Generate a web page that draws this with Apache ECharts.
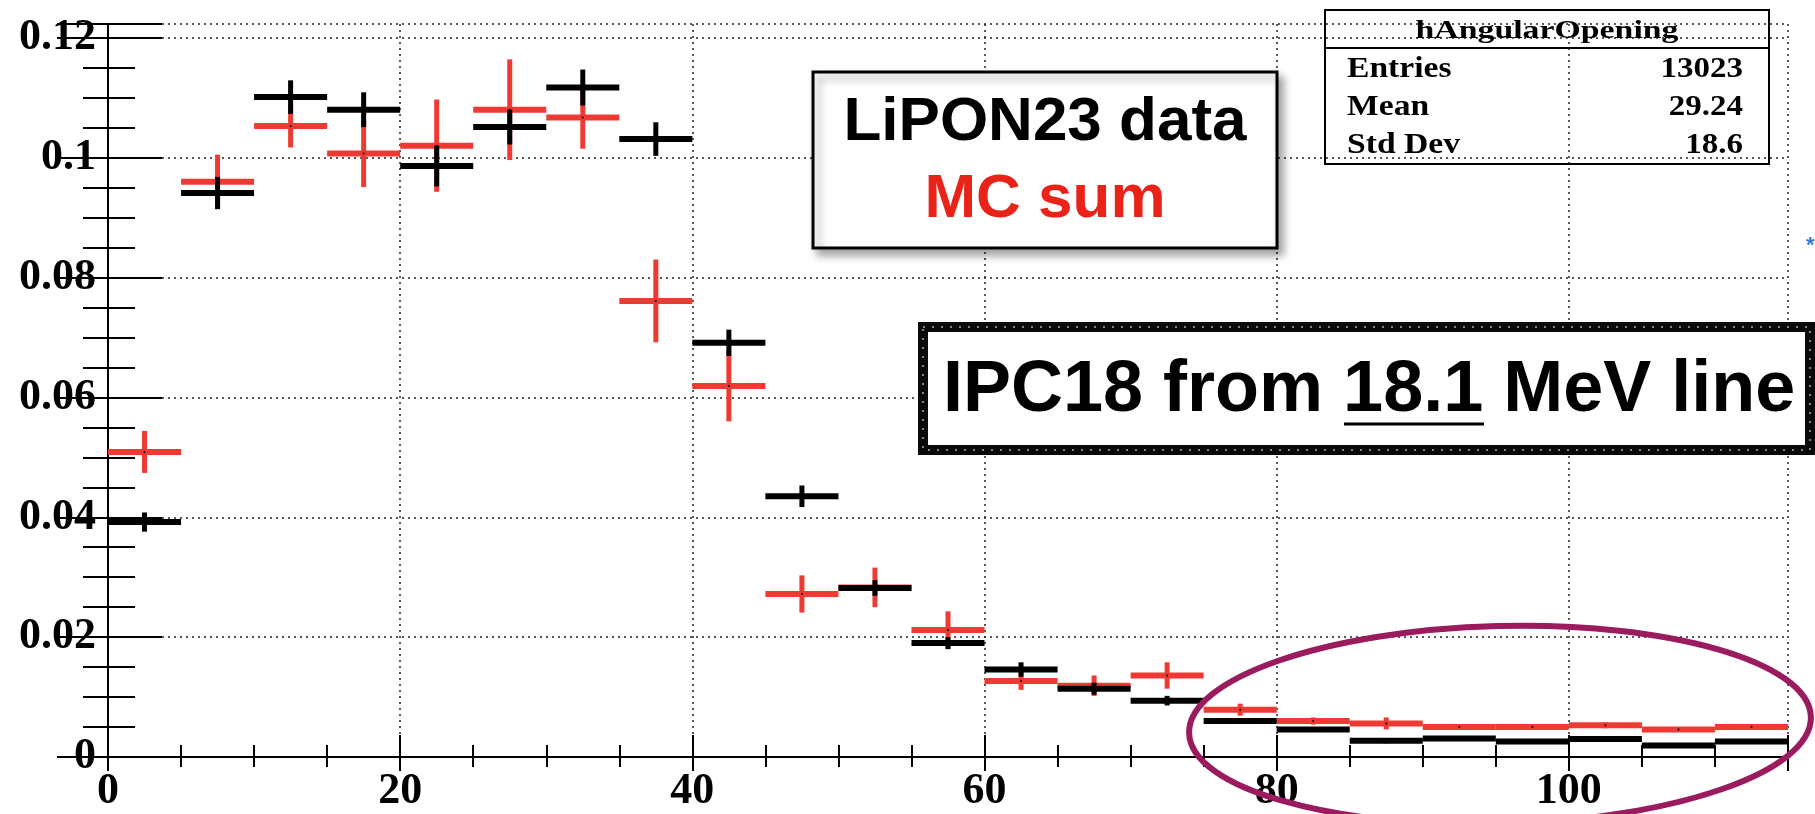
<!DOCTYPE html>
<html>
<head>
<meta charset="utf-8">
<script src="https://cdn.jsdelivr.net/npm/echarts@6/dist/echarts.min.js"></script>
<style>
html,body{margin:0;padding:0;background:#fff;}
#chart{width:1815px;height:814px;}
</style>
</head>
<body>
<div id="chart"></div>
<script>
// ---- data (angular opening histogram, bins of 5 deg) ----
const binEdges = [0,5,10,15,20,25,30,35,40,45,50,55,60,65,70,75,80,85,90,95,100,105,110,115];
const dataValues = [0.0392,0.0941,0.1101,0.1080,0.0986,0.1051,0.1117,0.1031,0.0691,0.0435,0.0282,0.0190,0.0146,0.0114,0.0094,0.0060,0.0046,0.0027,0.0031,0.0026,0.0030,0.0019,0.0026];
const dataErrors = [0.0016,0.0027,0.0028,0.0029,0.0034,0.0029,0.0030,0.0028,0.0022,0.0018,0.0013,0.0010,0.0012,0.0010,0.0008,0.0005,0.0004,0.0004,0.0004,0.0004,0.0004,0.0004,0.0004];
const mcValues = [0.0509,0.0960,0.1053,0.1007,0.1020,0.1080,0.1067,0.0761,0.0619,0.0272,0.0283,0.0212,0.0127,0.0119,0.0136,0.0079,0.0060,0.0056,0.0050,0.0050,0.0053,0.0046,0.0050];
const mcErrors = [0.0035,0.0045,0.0036,0.0056,0.0077,0.0084,0.0052,0.0069,0.0059,0.0031,0.0033,0.0031,0.0015,0.0017,0.0022,0.0010,0.0006,0.0010,0.0004,0.0003,0.0005,0.0003,0.0003];
const xTickLabels = ['0','20','40','60','80','100'];
const yTickLabels = ['0','0.02','0.04','0.06','0.08','0.1','0.12'];
const statsTitle = 'hAngularOpening';
const statsNames = ['Entries','Mean','Std Dev'];
const statsValues = ['13023','29.24','18.6'];

function toItems(vals, errs){
  return vals.map((v,i)=>[binEdges[i], binEdges[i+1], v, errs[i]]);
}
function crossRenderer(color){
  return function(params, api){
    const x0 = api.value(0), x1 = api.value(1), v = api.value(2), e = api.value(3);
    const pL = api.coord([x0, v]), pR = api.coord([x1, v]);
    const xc = (x0 + x1) / 2;
    const pT = api.coord([xc, v + e]), pB = api.coord([xc, v - e]);
    return {type:'group', children:[
      {type:'line', shape:{x1:pL[0], y1:pL[1], x2:pR[0], y2:pR[1]}, style:{stroke:color, lineWidth:6}},
      {type:'line', shape:{x1:pT[0], y1:pT[1], x2:pB[0], y2:pB[1]}, style:{stroke:color, lineWidth:5}},
      {type:'circle', shape:{cx:(pL[0]+pR[0])/2, cy:pL[1], r:1}, style:{fill:'#000'}}
    ]};
  };
}

const serifFont = "'Liberation Serif','DejaVu Serif',serif";
const sansFont = "'Liberation Sans',Arial,sans-serif";
const black = '#000';

function xFmt(v){ const i = Math.round(v/20); return (Math.abs(v - i*20) < 1e-6 && xTickLabels[i] !== undefined) ? xTickLabels[i] : ''; }
function yFmt(v){ const i = Math.round(v/0.02); return (Math.abs(v - i*0.02) < 1e-9 && yTickLabels[i] !== undefined) ? yTickLabels[i] : ''; }

const gridLine = {show:true, lineStyle:{color:'#222', width:1.5, type:[2,4]}};
const axisLineStyle = {show:true, lineStyle:{color:black, width:2}};

const chart = echarts.init(document.getElementById('chart'), null, {renderer:'canvas'});
const option = {
  animation:false,
  backgroundColor:'#fff',
  grid:{left:108, right:27, top:24, bottom:50, containLabel:false},
  xAxis:[
    {type:'value', position:'bottom', min:0, max:115, interval:20,
     axisLine:axisLineStyle,
     axisTick:{show:true, inside:true, length:22, lineStyle:{color:black, width:2}},
     axisLabel:{show:true, formatter:xFmt, margin:13, color:black, fontSize:44, fontWeight:'bold', fontFamily:serifFont},
     splitLine:gridLine},
    {type:'value', position:'bottom', min:0, max:115, interval:5,
     axisLine:{show:false}, axisTick:{show:true, inside:true, length:12, lineStyle:{color:black, width:2}},
     axisLabel:{show:false}, splitLine:{show:false}},
    {type:'value', position:'top', min:0, max:115, interval:20,
     axisLine:axisLineStyle, axisTick:{show:true, inside:true, length:14, lineStyle:{color:black, width:2}},
     axisLabel:{show:false}, splitLine:{show:false}},
    {type:'value', position:'top', min:0, max:115, interval:5,
     axisLine:{show:false}, axisTick:{show:true, inside:true, length:10, lineStyle:{color:black, width:2}},
     axisLabel:{show:false}, splitLine:{show:false}}
  ],
  yAxis:[
    {type:'value', position:'left', min:0, max:0.1223, interval:0.02,
     axisLine:axisLineStyle,
     axisTick:{show:true, inside:true, length:54, lineStyle:{color:black, width:2}},
     axisLabel:{show:true, formatter:yFmt, margin:12, color:black, fontSize:44, fontWeight:'bold', fontFamily:serifFont},
     splitLine:gridLine},
    {type:'value', position:'left', min:0, max:0.1223, interval:0.005,
     axisLine:{show:false}, axisTick:{show:true, inside:true, length:27, lineStyle:{color:black, width:2}},
     axisLabel:{show:false}, splitLine:{show:false}},
    {type:'value', position:'right', min:0, max:0.1223, interval:0.02,
     axisLine:axisLineStyle, axisTick:{show:true, inside:true, length:51, lineStyle:{color:black, width:2}},
     axisLabel:{show:false}, splitLine:{show:false}},
    {type:'value', position:'right', min:0, max:0.1223, interval:0.005,
     axisLine:{show:false}, axisTick:{show:true, inside:true, length:25, lineStyle:{color:black, width:2}},
     axisLabel:{show:false}, splitLine:{show:false}}
  ],
  series:[
    {name:'MC sum', type:'custom', xAxisIndex:0, yAxisIndex:0, z:3,
     renderItem:crossRenderer('#ef3a33'), encode:{x:[0,1], y:[2]}, data:toItems(mcValues, mcErrors)},
    {name:'LiPON23 data', type:'custom', xAxisIndex:0, yAxisIndex:0, z:4,
     renderItem:crossRenderer('#000'), encode:{x:[0,1], y:[2]}, data:toItems(dataValues, dataErrors)}
  ],
  graphic:[
    // stats box (transparent)
    {type:'rect', z:50, shape:{x:1325, y:10, width:444, height:154}, style:{fill:'none', stroke:black, lineWidth:2}},
    {type:'line', z:50, shape:{x1:1325, y1:48, x2:1769, y2:48}, style:{stroke:black, lineWidth:2}},
    {type:'text', z:51, x:1547, y:31, scaleX:1.3, style:{text:statsTitle, x:0, y:0, align:'center', verticalAlign:'middle', font:"bold 26px "+serifFont, fill:black}},
    {type:'text', z:51, x:1347, y:69, scaleX:1.12, style:{text:statsNames[0], x:0, y:0, align:'left', verticalAlign:'middle', font:"bold 30px "+serifFont, fill:black}},
    {type:'text', z:51, x:1347, y:107, scaleX:1.12, style:{text:statsNames[1], x:0, y:0, align:'left', verticalAlign:'middle', font:"bold 30px "+serifFont, fill:black}},
    {type:'text', z:51, x:1347, y:145, scaleX:1.12, style:{text:statsNames[2], x:0, y:0, align:'left', verticalAlign:'middle', font:"bold 30px "+serifFont, fill:black}},
    {type:'text', z:51, x:1743, y:69, scaleX:1.1, style:{text:statsValues[0], x:0, y:0, align:'right', verticalAlign:'middle', font:"bold 30px "+serifFont, fill:black}},
    {type:'text', z:51, x:1743, y:107, scaleX:1.1, style:{text:statsValues[1], x:0, y:0, align:'right', verticalAlign:'middle', font:"bold 30px "+serifFont, fill:black}},
    {type:'text', z:51, x:1743, y:145, scaleX:1.1, style:{text:statsValues[2], x:0, y:0, align:'right', verticalAlign:'middle', font:"bold 30px "+serifFont, fill:black}},
    // legend-like box
    {type:'rect', z:60, shape:{x:813, y:72, width:464, height:176}, style:{fill:'#fff', stroke:black, lineWidth:3, shadowBlur:8, shadowOffsetX:5, shadowOffsetY:6, shadowColor:'rgba(0,0,0,0.35)'}},
    {type:'text', z:61, style:{text:'LiPON23 data', x:1045, y:123, align:'center', verticalAlign:'middle', font:"bold 62px "+sansFont, fill:black}},
    {type:'text', z:61, style:{text:'MC sum', x:1045, y:200, align:'center', verticalAlign:'middle', font:"bold 62px "+sansFont, fill:'#e92318'}},
    // IPC18 annotation box
    {type:'rect', z:60, shape:{x:923, y:327, width:887, height:123}, style:{fill:'#fff', stroke:'#0a0a0a', lineWidth:10}},
    {type:'rect', z:61, shape:{x:923, y:327, width:887, height:123}, style:{fill:'none', stroke:'#fff', lineWidth:1, lineDash:[2,7]}},
    {type:'text', z:62, style:{text:'IPC18 from 18.1 MeV line', x:943, y:391, align:'left', verticalAlign:'middle', font:"bold 72px "+sansFont, fill:black}},
    {type:'line', z:62, shape:{x1:1344, y1:424, x2:1484, y2:424}, style:{stroke:black, lineWidth:3}},
    // hand-drawn ellipse
    {type:'ellipse', z:70, x:1500, y:725, rotation:0.026, shape:{cx:0, cy:0, rx:311, ry:99}, style:{fill:'none', stroke:'#9a1b5e', lineWidth:6}},
    // small blue mark at right edge
    {type:'text', z:70, style:{text:'*', x:1806, y:246, align:'left', verticalAlign:'middle', font:"bold 22px "+sansFont, fill:'#2f7fd8'}}
  ]
};
chart.setOption(option);
</script>
</body>
</html>
